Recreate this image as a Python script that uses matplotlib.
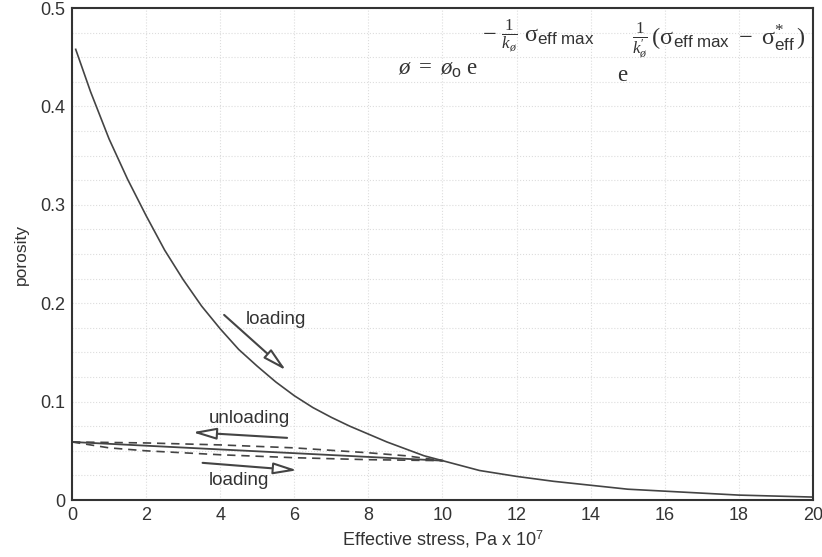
import numpy as np
import matplotlib
matplotlib.use("Agg")
import matplotlib.pyplot as plt

# porosity vs effective stress, loading / unloading paths

plt.rcParams['font.family'] = ['Liberation Sans', 'DejaVu Sans']
plt.rcParams['mathtext.fontset'] = 'custom'
plt.rcParams['mathtext.rm'] = 'Liberation Serif'
plt.rcParams['mathtext.it'] = 'Liberation Serif:italic'
plt.rcParams['mathtext.sf'] = 'Liberation Sans'

LINE = '#444444'
TEXT = '#333333'

# main compaction (loading) curve
load_x = [0.1, 0.5, 1.0, 1.5, 2.0, 2.5, 3.0, 3.5, 4.0, 4.5, 5.0, 5.5, 6.0, 6.5, 7.0, 7.5,
          8.0, 8.5, 9.0, 9.5, 10.0, 10.5, 11.0, 11.5, 12.0, 13.0, 14.0, 15.0, 16.0, 17.0,
          18.0, 19.0, 20.0]
load_y = [0.458, 0.415, 0.367, 0.326, 0.289, 0.254, 0.224, 0.197, 0.174, 0.153, 0.136, 0.120,
          0.106, 0.094, 0.084, 0.075, 0.067, 0.059, 0.052, 0.045, 0.040, 0.035, 0.030, 0.027,
          0.024, 0.019, 0.015, 0.011, 0.009, 0.007, 0.005, 0.004, 0.003]

# unloading / reloading paths between 0 and 10
unload_x = [0.0, 10.0]
unload_y = [0.059, 0.040]
upper_dash_x = [0.0, 2.0, 4.0, 6.0, 8.0, 9.0, 10.0]
upper_dash_y = [0.059, 0.058, 0.056, 0.053, 0.048, 0.045, 0.040]
lower_dash_x = [0.0, 1.0, 2.0, 4.0, 6.0, 8.0, 10.0]
lower_dash_y = [0.059, 0.053, 0.050, 0.046, 0.043, 0.041, 0.040]

x_ticks = [0, 2, 4, 6, 8, 10, 12, 14, 16, 18, 20]
y_ticks = [0, 0.1, 0.2, 0.3, 0.4, 0.5]
y_labels = ['0', '0.1', '0.2', '0.3', '0.4', '0.5']

fig = plt.figure(figsize=(8.22, 5.57), dpi=100)
ax = fig.add_axes([0.0876, 0.1023, 0.9014, 0.8833])

ax.plot(load_x, load_y, color=LINE, lw=1.2)
ax.plot(unload_x, unload_y, color=LINE, lw=1.3)
ax.plot(upper_dash_x, upper_dash_y, color=LINE, lw=1.2, ls=(0, (5, 3.5)))
ax.plot(lower_dash_x, lower_dash_y, color=LINE, lw=1.2, ls=(0, (5, 3.5)))

ax.set_xlim(0, 20)
ax.set_ylim(0, 0.5)
ax.set_xticks(x_ticks)
ax.set_yticks(y_ticks)
ax.set_yticklabels(y_labels)
ax.set_yticks(np.arange(0, 0.5, 0.025), minor=True)
ax.tick_params(length=0, labelsize=13, colors=TEXT, pad=5)
ax.tick_params(which='minor', length=0)
ax.grid(True, axis='x', color='#dddddd', lw=0.8, ls=':')
ax.grid(True, axis='y', which='both', color='#dddddd', lw=0.8, ls=':')
for s in ax.spines.values():
    s.set_color(TEXT)
    s.set_linewidth(1.5)

ax.set_xlabel('Effective stress, Pa x 10$^{\\mathsf{7}}$', fontsize=13, color=TEXT, labelpad=3)
ax.set_ylabel('porosity', fontsize=12.5, color=TEXT, labelpad=8)

# arrows and labels
arrow = dict(arrowstyle='-|>,head_length=0.9,head_width=0.22', color=LINE, fc='white',
             lw=1.5, mutation_scale=16)
ax.annotate('', xy=(5.83, 0.130), xytext=(4.05, 0.190), arrowprops=arrow)
ax.text(5.5, 0.183, 'loading', fontsize=13.5, color=TEXT, ha='center', va='center')
ax.annotate('', xy=(3.18, 0.069), xytext=(5.88, 0.063), arrowprops=arrow)
ax.text(4.8, 0.083, 'unloading', fontsize=13.5, color=TEXT, ha='center', va='center')
ax.annotate('', xy=(6.15, 0.030), xytext=(3.45, 0.038), arrowprops=arrow)
ax.text(4.5, 0.020, 'loading', fontsize=13.5, color=TEXT, ha='center', va='center')

# equation, built from four pieces
eq_kw = dict(transform=ax.transAxes, color=TEXT, va='baseline')
ax.text(0.440, 0.864, r'$\o\ =\ \o_{\mathsf{o}}\ \mathrm{e}$', fontsize=16.5, **eq_kw)
ax.text(0.553, 0.929, r'$-\ \frac{1}{k_{\o}}\ \mathrm{\sigma}_{\mathsf{eff\ max}}$',
        fontsize=17.5, **eq_kw)
ax.text(0.7355, 0.852, r'$\mathrm{e}$', fontsize=16.5, **eq_kw)
ax.text(0.756, 0.925,
        r'$\frac{1}{k^{\prime}_{\o}}\,(\mathrm{\sigma}_{\mathsf{eff\ max}}\ -\ \mathrm{\sigma}^{*}_{\mathsf{eff}}\,)$',
        fontsize=17.5, **eq_kw)

fig.savefig('out.png', dpi=100)
